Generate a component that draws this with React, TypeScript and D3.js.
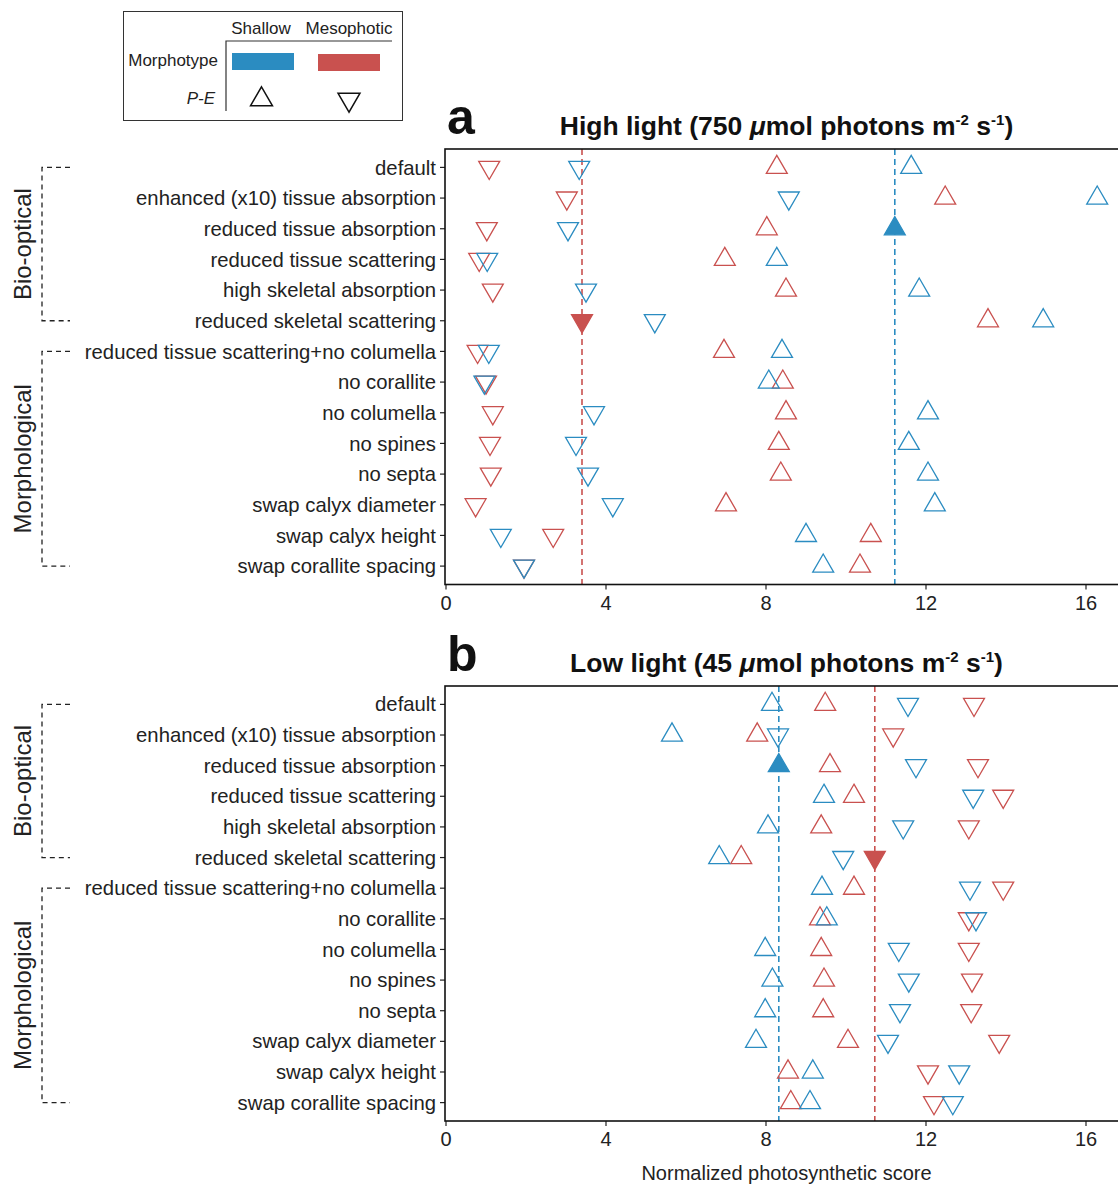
import * as d3 from "d3";

const BLUE = "#2b8cc1";
const RED = "#c9514f";
const FONT = "'Liberation Sans', Arial, Helvetica, sans-serif";

// 시나리오 (y축)
const rowLabels = [
  "default",
  "enhanced (x10) tissue absorption",
  "reduced tissue absorption",
  "reduced tissue scattering",
  "high skeletal absorption",
  "reduced skeletal scattering",
  "reduced tissue scattering+no columella",
  "no corallite",
  "no columella",
  "no spines",
  "no septa",
  "swap calyx diameter",
  "swap calyx height",
  "swap corallite spacing",
];

const groupNames = ["Bio-optical", "Morphological"];
const groupStart = ["default", "reduced tissue scattering+no columella"];
const groupEnd = ["reduced skeletal scattering", "swap corallite spacing"];

const xTicks = [0, 4, 8, 12, 16];

// a: High light  (null = 채워진 삼각형으로 따로 그림)
const highBlueUp = [11.63, 16.28, null, 8.27, 11.83, 14.93, 8.4, 8.07, 12.05, 11.57, 12.05, 12.22, 9.0, 9.43];
const highBlueDown = [3.33, 8.57, 3.05, 1.03, 3.5, 5.22, 1.07, 0.96, 3.7, 3.25, 3.55, 4.17, 1.37, 1.95];
const highRedUp = [8.27, 12.48, 8.02, 6.97, 8.5, 13.55, 6.95, 8.42, 8.5, 8.32, 8.37, 7.0, 10.62, 10.35];
const highRedDown = [1.08, 3.02, 1.02, 0.83, 1.17, null, 0.79, 1.0, 1.17, 1.1, 1.12, 0.74, 2.68, 1.95];
const highShallowLine = 11.22;
const highMesoLine = 3.4;

// b: Low light
const lowBlueUp = [8.15, 5.65, null, 9.45, 8.05, 6.83, 9.4, 9.52, 7.98, 8.16, 7.98, 7.75, 9.17, 9.1];
const lowBlueDown = [11.55, 8.3, 11.75, 13.18, 11.43, 9.93, 13.1, 13.25, 11.32, 11.57, 11.35, 11.05, 12.83, 12.67];
const lowRedUp = [9.48, 7.78, 9.6, 10.2, 9.38, 7.38, 10.2, 9.35, 9.38, 9.45, 9.43, 10.05, 8.55, 8.62];
const lowRedDown = [13.2, 11.18, 13.3, 13.93, 13.07, null, 13.93, 13.07, 13.07, 13.15, 13.13, 13.83, 12.05, 12.2];
const lowShallowLine = 8.32;
const lowMesoLine = 10.72;

// 채워진 삼각형이 놓이는 행
const shallowMarkRow = "reduced tissue absorption";
const mesoMarkRow = "reduced skeletal scattering";

const triPath = d3.symbol(d3.symbolTriangle, 190)();

const xScale = d3.scaleLinear().domain([0, 16]).range([446, 1086]);
const plotLeft = 445;
const plotRight = 1128;

const Tri = ({ x, y, color, down, filled }) => (
  <path
    d={triPath}
    transform={`translate(${x},${y})${down ? " rotate(180)" : ""}`}
    fill={filled ? color : "none"}
    stroke={color}
    strokeWidth={1.3}
  />
);

const Panel = ({ top, bottom, letter, title, series, shallowLine, mesoLine, showXTitle }) => {
  const yScale = d3.scalePoint().domain(rowLabels).range([top, bottom]).padding(0.6);

  return (
    <g>
      <text x={447} y={top - 15} fontSize={50} fontWeight="bold" fill="#111">{letter}</text>
      <text x={(plotLeft + plotRight) / 2} y={top - 14} fontSize={26.5} fontWeight="bold" textAnchor="middle" fill="#111">
        {title}
        <tspan fontStyle="italic">μ</tspan>
        {"mol photons m"}
        <tspan fontSize={15} dy={-10}>-2</tspan>
        <tspan dy={10}> s</tspan>
        <tspan fontSize={15} dy={-10}>-1</tspan>
        <tspan dy={10}>)</tspan>
      </text>

      {/* 그룹 괄호 */}
      {groupNames.map((name, i) => {
        const y0 = yScale(groupStart[i]);
        const y1 = yScale(groupEnd[i]);
        return (
          <g key={name}>
            <path
              d={`M70,${y0}H42V${y1}H70`}
              fill="none"
              stroke="#222"
              strokeWidth={1.3}
              strokeDasharray="5,4"
            />
            <text
              transform={`translate(31,${(y0 + y1) / 2}) rotate(-90)`}
              textAnchor="middle"
              fontSize={24}
              fill="#222"
            >
              {name}
            </text>
          </g>
        );
      })}

      {/* y축 */}
      {rowLabels.map((r) => (
        <g key={r}>
          <line x1={plotLeft - 5} x2={plotLeft} y1={yScale(r)} y2={yScale(r)} stroke="#222" strokeWidth={1.2} />
          <text x={plotLeft - 9} y={yScale(r)} dy="0.35em" textAnchor="end" fontSize={20.3} fill="#222">{r}</text>
        </g>
      ))}

      {/* x축 */}
      {xTicks.map((t) => (
        <g key={t}>
          <line x1={xScale(t)} x2={xScale(t)} y1={bottom} y2={bottom + 5} stroke="#222" strokeWidth={1.2} />
          <text x={xScale(t)} y={bottom + 25} textAnchor="middle" fontSize={20} fill="#222">{t}</text>
        </g>
      ))}

      {/* 평균선 */}
      <line x1={xScale(mesoLine)} x2={xScale(mesoLine)} y1={top} y2={bottom} stroke={RED} strokeWidth={1.6} strokeDasharray="6,4" />
      <line x1={xScale(shallowLine)} x2={xScale(shallowLine)} y1={top} y2={bottom} stroke={BLUE} strokeWidth={1.6} strokeDasharray="6,4" />

      {series.map((s, si) =>
        s.values.map((v, i) =>
          v == null ? null : (
            <Tri key={`${si}-${i}`} x={xScale(v)} y={yScale(rowLabels[i])} color={s.color} down={s.down} />
          )
        )
      )}

      <Tri x={xScale(shallowLine)} y={yScale(shallowMarkRow)} color={BLUE} filled />
      <Tri x={xScale(mesoLine)} y={yScale(mesoMarkRow)} color={RED} down filled />

      <rect x={plotLeft} y={top} width={plotRight - plotLeft} height={bottom - top} fill="none" stroke="#111" strokeWidth={1.6} />

      {showXTitle && (
        <text x={(plotLeft + plotRight) / 2} y={bottom + 59} textAnchor="middle" fontSize={20} fill="#222">
          Normalized photosynthetic score
        </text>
      )}
    </g>
  );
};

const Legend = () => (
  <g fontSize={17} fill="#222">
    <rect x={123.5} y={11.5} width={279} height={109} fill="none" stroke="#333" strokeWidth={1} />
    <text x={261} y={34} textAnchor="middle">Shallow</text>
    <text x={349} y={34} textAnchor="middle">Mesophotic</text>
    <path d="M226,111V41H392" fill="none" stroke="#333" strokeWidth={1.2} />
    <text x={218} y={66} textAnchor="end">Morphotype</text>
    <rect x={232} y={53} width={62} height={17} fill={BLUE} />
    <rect x={318} y={54} width={62} height={17} fill={RED} />
    <text x={215} y={104} textAnchor="end" fontStyle="italic">P-E</text>
    <path d={triPath} transform="translate(261.5,99.5) scale(1.05)" fill="none" stroke="#111" strokeWidth={1.4} />
    <path d={triPath} transform="translate(349,99.5) scale(1.05) rotate(180)" fill="none" stroke="#111" strokeWidth={1.4} />
  </g>
);

export default function App() {
  const highSeries = [
    { values: highRedDown, color: RED, down: true },
    { values: highBlueDown, color: BLUE, down: true },
    { values: highRedUp, color: RED, down: false },
    { values: highBlueUp, color: BLUE, down: false },
  ];
  const lowSeries = [
    { values: lowRedDown, color: RED, down: true },
    { values: lowBlueDown, color: BLUE, down: true },
    { values: lowRedUp, color: RED, down: false },
    { values: lowBlueUp, color: BLUE, down: false },
  ];

  return (
    <div style={{ position: "absolute", left: 0, top: 0, background: "#fff" }}>
      <svg width={1118} height={1185} fontFamily={FONT} style={{ display: "block" }}>
        <rect width={1118} height={1185} fill="#fff" />
        <Legend />
        <Panel
          top={149}
          bottom={584.5}
          letter="a"
          title="High light (750 "
          series={highSeries}
          shallowLine={highShallowLine}
          mesoLine={highMesoLine}
        />
        <Panel
          top={686}
          bottom={1121}
          letter="b"
          title="Low light (45 "
          series={lowSeries}
          shallowLine={lowShallowLine}
          mesoLine={lowMesoLine}
          showXTitle
        />
      </svg>
    </div>
  );
}
